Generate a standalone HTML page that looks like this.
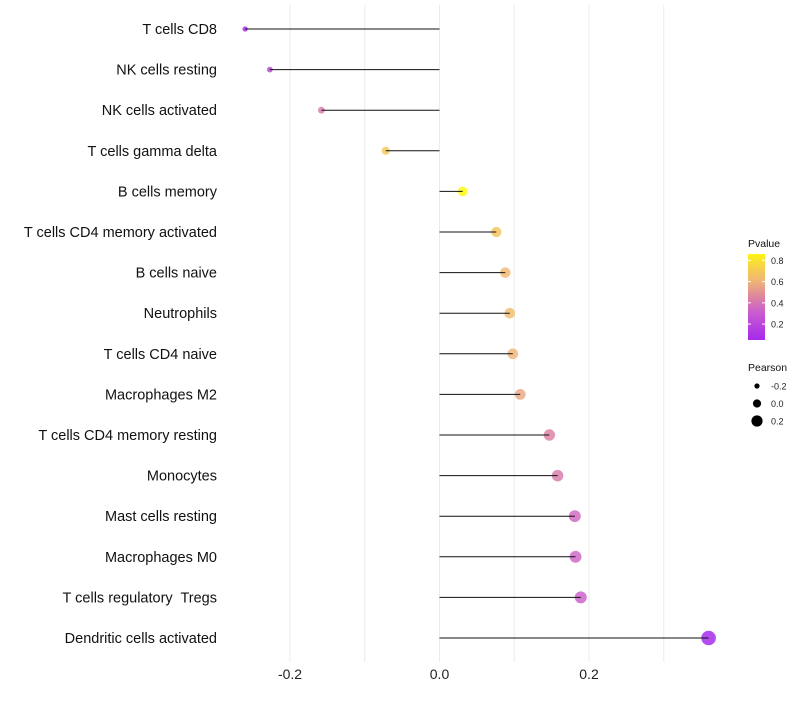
<!DOCTYPE html>
<html><head><meta charset="utf-8"><style>
body{margin:0;background:#fff;font-family:"Liberation Sans",sans-serif}
svg text{font-family:"Liberation Sans",sans-serif;white-space:pre}
</style></head><body>
<svg id="c" width="800" height="700"></svg>
<script>
const categories=["T cells CD8","NK cells resting","NK cells activated","T cells gamma delta","B cells memory","T cells CD4 memory activated","B cells naive","Neutrophils","T cells CD4 naive","Macrophages M2","T cells CD4 memory resting","Monocytes","Mast cells resting","Macrophages M0","T cells regulatory  Tregs","Dendritic cells activated"];
const pearson=[-0.26,-0.227,-0.158,-0.072,0.031,0.076,0.088,0.094,0.098,0.108,0.147,0.158,0.181,0.182,0.189,0.36];
const pvalues=[0.05,0.2,0.42,0.7,0.88,0.68,0.62,0.64,0.6,0.56,0.44,0.42,0.35,0.34,0.32,0.03];
const xTicks=[-0.2,0,0.2];
const xTickLabels=["-0.2","0.0","0.2"];
const xMinor=[-0.1,0.1,0.3];
const legP=[0.8,0.6,0.4,0.2];
const legR=[-0.2,0,0.2];
const NS="http://www.w3.org/2000/svg";
const svg=document.getElementById('c');
const xs=v=>439.5+v*747.5;
const ys=i=>29+i*40.6;
const rs=p=>4.6+7.5*p;
const stops=[[0,[160,32,240]],[0.3,[200,90,210]],[0.45,[220,130,160]],[0.6,[240,180,120]],[0.72,[245,205,80]],[0.9,[255,255,0]]];
function col(p){for(let i=1;i<stops.length;i++){if(p<=stops[i][0]||i==stops.length-1){const a=stops[i-1],b=stops[i];let t=(p-a[0])/(b[0]-a[0]);t=Math.max(0,Math.min(1,t));const c=a[1].map((v,k)=>Math.round(v+(b[1][k]-v)*t));return `rgb(${c})`;}}}
function el(t,a,txt){const e=document.createElementNS(NS,t);for(const k in a)e.setAttribute(k,a[k]);if(txt!=null)e.textContent=txt;svg.appendChild(e);return e;}
xTicks.concat(xMinor).forEach(v=>{const g=el('line',{x1:xs(v),x2:xs(v),y1:5,y2:662,stroke:'#ebebeb','stroke-width':1});

});
xTicks.forEach((v,i)=>{const t=el('text',{x:xs(v),y:679,'text-anchor':'middle','font-size':14,fill:'#222'},xTickLabels[i]);

});
categories.forEach((c,i)=>{
const t=el('text',{x:217,y:ys(i)+5,'text-anchor':'end','font-size':14.5,fill:'#111','xml:space':'preserve'},c);


const d=el('circle',{cx:xs(pearson[i]),cy:ys(i),r:rs(pearson[i]),fill:col(pvalues[i]),'fill-opacity':0.82});


const l=el('line',{x1:xs(0),x2:xs(pearson[i]),y1:ys(i),y2:ys(i),stroke:'#111','stroke-width':1});


});
let lt=el('text',{x:748,y:247,'font-size':10.5,fill:'#111'},'Pvalue');


const defs=el('defs',{});
const lg=document.createElementNS(NS,'linearGradient');lg.setAttribute('id','g');lg.setAttribute('x1',0);lg.setAttribute('x2',0);lg.setAttribute('y1',1);lg.setAttribute('y2',0);defs.appendChild(lg);
const pv0=0.05,pv1=0.86;
for(let k=0;k<=10;k++){const p=pv0+(pv1-pv0)*k/10;const s=document.createElementNS(NS,'stop');s.setAttribute('offset',k/10);s.setAttribute('stop-color',col(p));lg.appendChild(s);}
const bar=el('rect',{x:748,y:254,width:17,height:86,fill:'url(#g)'});


const py=p=>340-(p-pv0)/(pv1-pv0)*86;
legP.forEach(p=>{el('line',{x1:748,x2:751,y1:py(p),y2:py(p),stroke:'#fff'});el('line',{x1:762,x2:765,y1:py(p),y2:py(p),stroke:'#fff'});
const t=el('text',{x:771,y:py(p)+3.5,'font-size':9,fill:'#222'},p.toFixed(1));

});
lt=el('text',{x:748,y:371,'font-size':10.5,fill:'#111'},'Pearson');


legR.forEach((v,i)=>{const y=386+i*17.5;
const c=el('circle',{cx:757,cy:y,r:rs(v)-0.5,fill:'#000'});


const t=el('text',{x:771,y:y+3.5,'font-size':9,fill:'#222'},v.toFixed(1));

});
</script>
</body></html>
